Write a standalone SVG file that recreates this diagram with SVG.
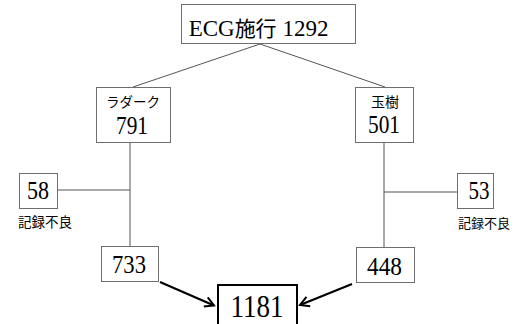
<svg xmlns="http://www.w3.org/2000/svg" width="515" height="324" viewBox="0 0 515 324">
<defs>
<marker id="arr" viewBox="0 0 12 12" refX="10" refY="6" markerWidth="12" markerHeight="12" markerUnits="userSpaceOnUse" orient="auto">
<path d="M1,1 L10,6 L1,11" fill="none" stroke="#000" stroke-width="2"/>
</marker>
<style>
.box{fill:#fff;stroke:#6e6e6e;stroke-width:1}
.ln{stroke:#555;stroke-width:1;fill:none}
.num{font-family:"Liberation Serif","Noto Serif CJK JP",serif;fill:#000;text-anchor:middle}
.jp{font-family:"Noto Sans CJK JP",sans-serif;fill:#000;text-anchor:middle}
</style>
</defs>
<rect width="515" height="324" fill="#fff"/>
<g id="connectors">
<polyline class="ln" points="133,87 260,44 385,87"/>
<line class="ln" x1="130" y1="142" x2="130" y2="246"/>
<line class="ln" x1="57" y1="190" x2="130" y2="190"/>
<line class="ln" x1="384" y1="142" x2="384" y2="247"/>
<line class="ln" x1="384" y1="192" x2="457" y2="192"/>
<line x1="160" y1="282" x2="214" y2="305.5" stroke="#000" stroke-width="2.2" marker-end="url(#arr)"/>
<line x1="352" y1="284" x2="300" y2="305" stroke="#000" stroke-width="2.2" marker-end="url(#arr)"/>
</g>
<g id="n_ecg">
<rect class="box" x="181.5" y="4.5" width="174" height="39"/>
<text x="258.5" y="36" font-size="23" class="num">ECG<tspan font-family="Noto Sans CJK JP,sans-serif" font-size="21">施行</tspan> 1292</text>
</g>
<g id="n_radak">
<rect class="box" x="96.5" y="87.5" width="74" height="55"/>
<text class="jp" x="133" y="107" font-size="13.5">ラダーク</text>
<text class="num" x="132" y="134" font-size="25" textLength="32" lengthAdjust="spacingAndGlyphs">791</text>
</g>
<g id="n_yushu">
<rect class="box" x="355.5" y="87.5" width="58" height="55"/>
<text class="jp" x="385" y="107" font-size="14">玉樹</text>
<text class="num" x="384" y="133" font-size="25" textLength="32" lengthAdjust="spacingAndGlyphs">501</text>
</g>
<g id="n_58">
<rect class="box" x="19.5" y="173.5" width="38" height="35"/>
<text class="num" x="38" y="199" font-size="25" textLength="22" lengthAdjust="spacingAndGlyphs">58</text>
<text class="jp" x="45" y="227" font-size="13.5">記録不良</text>
</g>
<g id="n_53">
<rect class="box" x="457.5" y="173.5" width="36" height="35"/>
<text class="num" x="479" y="199" font-size="25" textLength="21" lengthAdjust="spacingAndGlyphs">53</text>
<text class="jp" x="484" y="228" font-size="13">記録不良</text>
</g>
<g id="n_733">
<rect class="box" x="101.5" y="246.5" width="57" height="35"/>
<text class="num" x="129" y="273" font-size="25" textLength="34" lengthAdjust="spacingAndGlyphs">733</text>
</g>
<g id="n_448">
<rect class="box" x="356.5" y="247.5" width="58" height="35"/>
<text class="num" x="384.5" y="275" font-size="25" textLength="35" lengthAdjust="spacingAndGlyphs">448</text>
</g>
<g id="n_1181">
<rect x="218" y="285" width="79" height="45" fill="#fff" stroke="#000" stroke-width="2"/>
<text class="num" x="257" y="317" font-size="31" textLength="53" lengthAdjust="spacingAndGlyphs">1181</text>
</g>
</svg>
